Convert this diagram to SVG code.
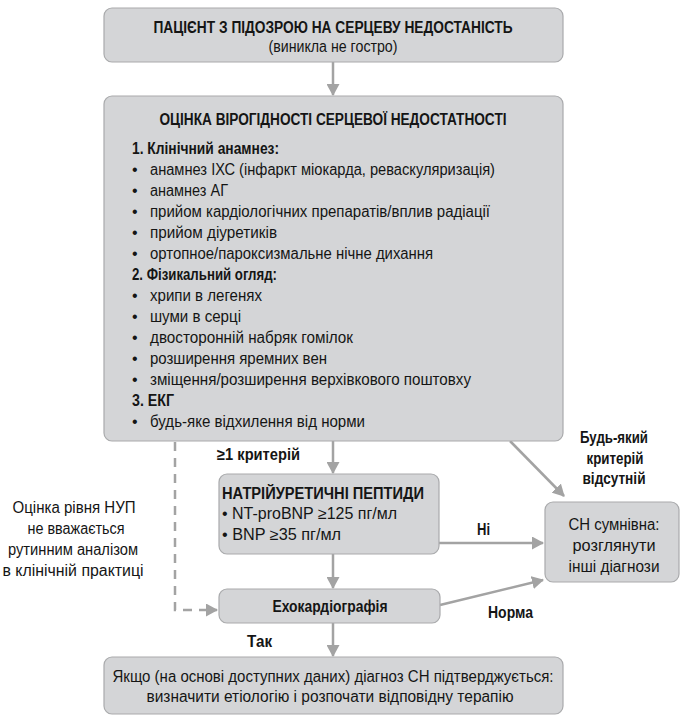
<svg xmlns="http://www.w3.org/2000/svg" width="681" height="717" viewBox="0 0 681 717">
<style>
.box{fill:#d4d5d7;stroke:#a9aaac;stroke-width:1.2}
.t{font-family:"Liberation Sans",Arial,sans-serif;font-size:16px;fill:#151515}
.b{font-weight:bold}
.c{text-anchor:middle}
.ln{stroke:#a3a3a3;stroke-width:2.5;fill:none}
.dash{stroke:#a3a3a3;stroke-width:2.5;fill:none;stroke-dasharray:9 7}
</style>
<defs>
<marker id="ah" markerWidth="13" markerHeight="13" refX="11" refY="6.5" orient="auto" markerUnits="userSpaceOnUse">
<path d="M0,0 L12,6.5 L0,13 Z" fill="#a3a3a3"/>
</marker>
</defs>
<rect width="681" height="717" fill="#ffffff"/>
<g id="connectors">
<line class="ln" x1="333" y1="62" x2="333" y2="95" marker-end="url(#ah)"/>
<line class="ln" x1="333" y1="441" x2="333" y2="473" marker-end="url(#ah)"/>
<line class="ln" x1="333" y1="554" x2="333" y2="588" marker-end="url(#ah)"/>
<line class="ln" x1="333" y1="623" x2="333" y2="656" marker-end="url(#ah)"/>
<line class="ln" x1="510" y1="441" x2="564" y2="496" marker-end="url(#ah)"/>
<line class="ln" x1="439" y1="543" x2="543" y2="543" marker-end="url(#ah)"/>
<line class="ln" x1="440" y1="605" x2="543" y2="580" marker-end="url(#ah)"/>
<polyline class="dash" points="175,442 175,610 205,610"/>
<line class="ln" x1="205" y1="610" x2="217" y2="610" marker-end="url(#ah)"/>
<text class="t b" x="217" y="460" textLength="83" lengthAdjust="spacingAndGlyphs">≥1 критерій</text>
<text class="t b c" x="614" y="443" textLength="68" lengthAdjust="spacingAndGlyphs">Будь-який</text>
<text class="t b c" x="615" y="464" textLength="57" lengthAdjust="spacingAndGlyphs">критерій</text>
<text class="t b c" x="614" y="484" textLength="63" lengthAdjust="spacingAndGlyphs">відсутній</text>
<text class="t b" x="477" y="535" textLength="13" lengthAdjust="spacingAndGlyphs">Ні</text>
<text class="t b" x="488" y="618" textLength="45" lengthAdjust="spacingAndGlyphs">Норма</text>
<text class="t b" x="247" y="647" textLength="25" lengthAdjust="spacingAndGlyphs">Так</text>
<text class="t c" x="74" y="513" textLength="123" lengthAdjust="spacingAndGlyphs">Оцінка рівня НУП</text>
<text class="t c" x="76" y="534" textLength="97" lengthAdjust="spacingAndGlyphs">не вважається</text>
<text class="t c" x="73" y="555" textLength="130" lengthAdjust="spacingAndGlyphs">рутинним аналізом</text>
<text class="t c" x="73" y="576" textLength="141" lengthAdjust="spacingAndGlyphs">в клінічній практиці</text>
</g>
<g id="node-patient">
<rect class="box" x="104" y="8" width="459" height="54" rx="8"/>
<text class="t b c" x="333" y="33" textLength="359" lengthAdjust="spacingAndGlyphs">ПАЦІЄНТ З ПІДОЗРОЮ НА СЕРЦЕВУ НЕДОСТАНІСТЬ</text>
<text class="t c" x="333" y="52" textLength="129" lengthAdjust="spacingAndGlyphs">(виникла не гостро)</text>
</g>
<g id="node-assessment">
<rect class="box" x="104" y="96" width="459" height="345" rx="8"/>
<text class="t b c" x="333" y="125" textLength="347" lengthAdjust="spacingAndGlyphs">ОЦІНКА ВІРОГІДНОСТІ СЕРЦЕВОЇ НЕДОСТАТНОСТІ</text>
<text class="t b" x="132" y="154" textLength="147" lengthAdjust="spacingAndGlyphs">1. Клінічний анамнез:</text>
<text class="t" x="132" y="175">•</text>
<text class="t" x="150" y="175" textLength="345" lengthAdjust="spacingAndGlyphs">анамнез ІХС (інфаркт міокарда, реваскуляризація)</text>
<text class="t" x="132" y="196">•</text>
<text class="t" x="150" y="196" textLength="78" lengthAdjust="spacingAndGlyphs">анамнез АГ</text>
<text class="t" x="132" y="217">•</text>
<text class="t" x="150" y="217" textLength="340" lengthAdjust="spacingAndGlyphs">прийом кардіологічних препаратів/вплив радіації</text>
<text class="t" x="132" y="238">•</text>
<text class="t" x="150" y="238" textLength="127" lengthAdjust="spacingAndGlyphs">прийом діуретиків</text>
<text class="t" x="132" y="259">•</text>
<text class="t" x="150" y="259" textLength="283" lengthAdjust="spacingAndGlyphs">ортопное/пароксизмальне нічне дихання</text>
<text class="t b" x="132" y="280" textLength="145" lengthAdjust="spacingAndGlyphs">2. Фізикальний огляд:</text>
<text class="t" x="132" y="301">•</text>
<text class="t" x="150" y="301" textLength="112" lengthAdjust="spacingAndGlyphs">хрипи в легенях</text>
<text class="t" x="132" y="322">•</text>
<text class="t" x="150" y="322" textLength="91" lengthAdjust="spacingAndGlyphs">шуми в серці</text>
<text class="t" x="132" y="343">•</text>
<text class="t" x="150" y="343" textLength="203" lengthAdjust="spacingAndGlyphs">двосторонній набряк гомілок</text>
<text class="t" x="132" y="364">•</text>
<text class="t" x="150" y="364" textLength="177" lengthAdjust="spacingAndGlyphs">розширення яремних вен</text>
<text class="t" x="132" y="385">•</text>
<text class="t" x="150" y="385" textLength="321" lengthAdjust="spacingAndGlyphs">зміщення/розширення верхівкового поштовху</text>
<text class="t b" x="132" y="406" textLength="42" lengthAdjust="spacingAndGlyphs">3. ЕКГ</text>
<text class="t" x="132" y="427">•</text>
<text class="t" x="150" y="427" textLength="215" lengthAdjust="spacingAndGlyphs">будь-яке відхилення від норми</text>
</g>
<g id="node-peptides">
<rect class="box" x="219" y="474" width="220" height="80" rx="8"/>
<text class="t b" x="222" y="499" textLength="202" lengthAdjust="spacingAndGlyphs">НАТРІЙУРЕТИЧНІ ПЕПТИДИ</text>
<text class="t" x="222" y="519" textLength="175" lengthAdjust="spacingAndGlyphs">• NT-proBNP ≥125 пг/мл</text>
<text class="t" x="222" y="540" textLength="119" lengthAdjust="spacingAndGlyphs">• BNP ≥35 пг/мл</text>
</g>
<g id="node-echo">
<rect class="box" x="219" y="589" width="221" height="34" rx="8"/>
<text class="t b c" x="330" y="612" textLength="115" lengthAdjust="spacingAndGlyphs">Ехокардіографія</text>
</g>
<g id="node-doubtful">
<rect class="box" x="545" y="502" width="134" height="80" rx="8"/>
<text class="t c" x="614" y="530" textLength="91" lengthAdjust="spacingAndGlyphs">СН сумнівна:</text>
<text class="t c" x="614" y="551" textLength="83" lengthAdjust="spacingAndGlyphs">розглянути</text>
<text class="t c" x="614" y="572" textLength="91" lengthAdjust="spacingAndGlyphs">інші діагнози</text>
</g>
<g id="node-confirmed">
<rect class="box" x="104" y="657" width="459" height="57" rx="8"/>
<text class="t c" x="333" y="682" textLength="441" lengthAdjust="spacingAndGlyphs">Якщо (на основі доступних даних) діагноз СН підтверджується:</text>
<text class="t c" x="330" y="702" textLength="367" lengthAdjust="spacingAndGlyphs">визначити етіологію і розпочати відповідну терапію</text>
</g>
</svg>
